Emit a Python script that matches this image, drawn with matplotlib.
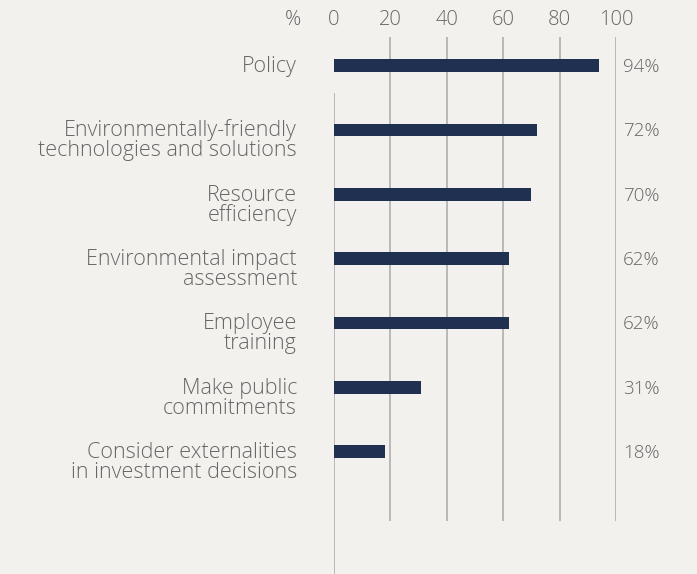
import matplotlib.pyplot as plt

categories = [
    "Policy",
    "Environmentally-friendly\ntechnologies and solutions",
    "Resource\nefficiency",
    "Environmental impact\nassessment",
    "Employee\ntraining",
    "Make public\ncommitments",
    "Consider externalities\nin investment decisions",
]
values = [94, 72, 70, 62, 62, 31, 18]
ticks = [0, 20, 40, 60, 80, 100]

bg = "#f2f1ed"
bar_col = "#1f3050"
txt_col = "#666666"
line_col = "#b3b3b3"

plt.rcParams['font.family'] = ['Open Sans', 'DejaVu Sans']

fig = plt.figure(figsize=(6.97, 5.74), dpi=100, facecolor=bg)
ax = fig.add_axes([334 / 697, 0, 282 / 697, 1])
ax.set_facecolor(bg)

step = 64.33   # pixels between rows
top = 65.7     # pixel centre of first row
y = list(range(len(categories)))
ax.set_xlim(0, 100)
ax.set_ylim((574 - top) / step, -top / step)

# grid lines and zero axis
ax.vlines(ticks[1:], (37 - top) / step, (521 - top) / step, color=line_col, lw=1.3, zorder=1)
ax.vlines(0, (93 - top) / step, (574 - top) / step, color=line_col, lw=1.3, zorder=1)

ax.barh(y, values, height=12.7 / step, color=bar_col, zorder=2)

ty = (20 - top) / step
for t in ticks:
    ax.text(t, ty, str(t), ha='center', va='center', fontsize=14.5, color=txt_col,
            fontweight='light', clip_on=False)
ax.text(-14.5, ty, "%", ha='center', va='center', fontsize=14.5, color=txt_col,
        fontweight='light', clip_on=False)

# first line of each label sits level with its bar, baseline at bar bottom
base = 6.3 / step
line_gap = 20 / step
for yi, cat, v in zip(y, categories, values):
    for k, line in enumerate(cat.split("\n")):
        ax.text(-13.1, yi + base + k * line_gap, line, ha='right', va='baseline',
                fontsize=15.5, color=txt_col, fontweight='light', clip_on=False)
    ax.text(102.5, yi + base, f"{v}%", ha='left', va='baseline', fontsize=13.5,
            color=txt_col, fontweight='light', clip_on=False)

for s in ax.spines.values():
    s.set_visible(False)
ax.set_xticks([])
ax.set_yticks([])

plt.savefig('out.png', dpi=100, facecolor=bg)
